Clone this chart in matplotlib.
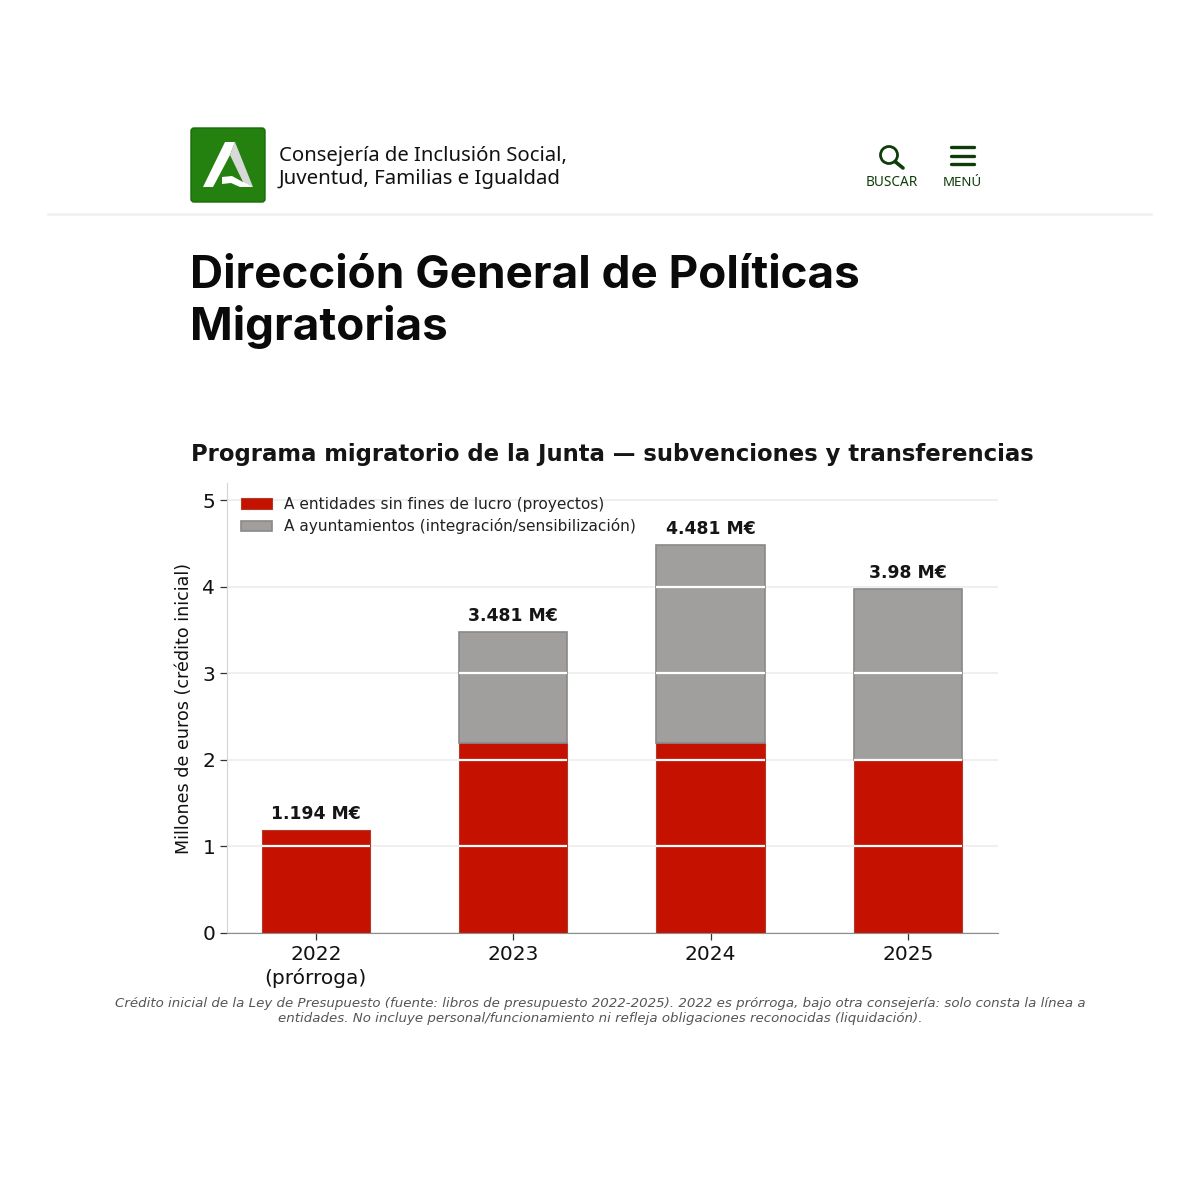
import matplotlib
matplotlib.use("Agg")
import matplotlib.pyplot as plt
from matplotlib.patches import FancyBboxPatch, Polygon, Circle

years = ["2022\n(prórroga)", "2023", "2024", "2025"]
entidades = [1.194, 2.2, 2.2, 2.0]
ayuntamientos = [0, 1.281, 2.281, 1.98]
total_labels = ["1.194 M€", "3.481 M€", "4.481 M€", "3.98 M€"]
yticks = [0, 1, 2, 3, 4, 5]

RED = "#c51200"
GREY = "#a19e9e"
DARK_GREEN = "#0f3d0a"
BAR_W = 0.55

fig = plt.figure(figsize=(12, 12), dpi=100)

# overlay in pixel coords for the page header
page = fig.add_axes([0, 0, 1, 1])
page.set_xlim(0, 1200)
page.set_ylim(1200, 0)
page.axis("off")

page.plot([48, 1151], [213.5, 213.5], color="#eef3f1", lw=2)

# logo
page.add_patch(FancyBboxPatch((191, 128), 74, 74, boxstyle="round,pad=0,rounding_size=3",
                              fc="#24800f", ec="#1a6a0c", lw=1))
page.add_patch(Polygon([(203, 187), (225, 142), (235, 142), (230, 155), (213, 187)], fc="white", ec="none"))
page.add_patch(Polygon([(235, 142), (253, 187), (244, 184), (230, 155)], fc="#d8d8d8", ec="none"))
page.add_patch(Polygon([(222, 177), (232, 176), (241, 181), (253, 187), (240, 187), (231, 183), (222, 184)],
                       fc="white", ec="none"))

page.text(279, 156, "Consejería de Inclusión Social,", family="Noto Sans", fontsize=14.6,
          va="center", ha="left", color="#111111")
page.text(279, 179, "Juventud, Familias e Igualdad", family="Noto Sans", fontsize=14.7,
          va="center", ha="left", color="#111111")

# search and menu icons
page.add_patch(Circle((889, 155), 8.5, fc="none", ec=DARK_GREEN, lw=2))
page.plot([895, 903], [161.5, 168], color=DARK_GREEN, lw=2.6, solid_capstyle="round")
for y in [147, 155.5, 164]:
    page.plot([951, 974], [y, y], color=DARK_GREEN, lw=2.4, solid_capstyle="round")
page.text(892, 183, "BUSCAR", family="Noto Sans", fontsize=9.8, color=DARK_GREEN, ha="center", va="center")
page.text(962, 183, "MENÚ", family="Noto Sans", fontsize=9.6, color=DARK_GREEN, ha="center", va="center")

page.text(190, 276, "Dirección General de Políticas", family="Inter", weight="bold", fontsize=33,
          color="#0a0a0a", ha="left", va="center")
page.text(190, 327, "Migratorias", family="Inter", weight="bold", fontsize=33,
          color="#0a0a0a", ha="left", va="center")

page.text(191, 455, "Programa migratorio de la Junta — subvenciones y transferencias",
          weight="bold", fontsize=16.4, color="#151515", ha="left", va="center")

# chart
ax = fig.add_axes([227 / 1200, 1 - 933 / 1200, (998 - 227) / 1200, (933 - 483) / 1200])
x = list(range(len(years)))
ax.bar(x, entidades, width=BAR_W, color=RED, edgecolor="#b0392c", lw=0.8, zorder=2,
       label="A entidades sin fines de lucro (proyectos)")
# 2022 has no ayuntamientos line, so leave out its empty bar
x_ayto = [i for i in x if ayuntamientos[i] > 0]
ax.bar(x_ayto, [ayuntamientos[i] for i in x_ayto], width=BAR_W, bottom=[entidades[i] for i in x_ayto],
       color=GREY, edgecolor="#8a8987", lw=1.2, zorder=2,
       label="A ayuntamientos (integración/sensibilización)")
ax.set_xlim(-0.45, 3.456)
ax.set_ylim(0, 5.2)
ax.set_xticks(x)
ax.set_xticklabels(years)
ax.set_yticks(yticks)
ax.tick_params(axis="both", labelsize=14.5, color="#333333", length=5, width=0.9, labelcolor="#111111")
ax.tick_params(axis="x", pad=4)
ax.yaxis.grid(True, color="#ebeded", lw=1.2, zorder=1)
ax.set_axisbelow(True)
ax.xaxis.grid(False)
for s in ["top", "right"]:
    ax.spines[s].set_visible(False)
ax.spines["left"].set_color("#d4d4d4")
ax.spines["bottom"].set_color("#8c8c8c")
ax.set_ylabel("Millones de euros (crédito inicial)", fontsize=12.6, color="#111111", labelpad=7)

# gridlines show white across the bars
for xi, e, a in zip(x, entidades, ayuntamientos):
    for t in yticks[1:]:
        if t < e + a:
            ax.hlines(t, xi - BAR_W / 2, xi + BAR_W / 2, color="white", lw=1.6, zorder=3)

for xi, e, a, label in zip(x, entidades, ayuntamientos, total_labels):
    ax.annotate(label, (xi, e + a), xytext=(0, 5), textcoords="offset points", ha="center", va="bottom",
                weight="bold", fontsize=12.4, color="#151515")

ax.legend(loc="upper left", frameon=False, fontsize=11.1, bbox_to_anchor=(0.0, 1.0),
          handlelength=2.0, labelspacing=0.42, handletextpad=0.8, labelcolor="#222222")

page.text(600, 1003, "Crédito inicial de la Ley de Presupuesto (fuente: libros de presupuesto 2022-2025). "
          "2022 es prórroga, bajo otra consejería: solo consta la línea a",
          style="italic", fontsize=9.68, color="#555555", ha="center", va="center")
page.text(600, 1018.5, "entidades. No incluye personal/funcionamiento ni refleja obligaciones reconocidas (liquidación).",
          style="italic", fontsize=9.68, color="#555555", ha="center", va="center")

fig.savefig("out.png", dpi=100, facecolor="white")
